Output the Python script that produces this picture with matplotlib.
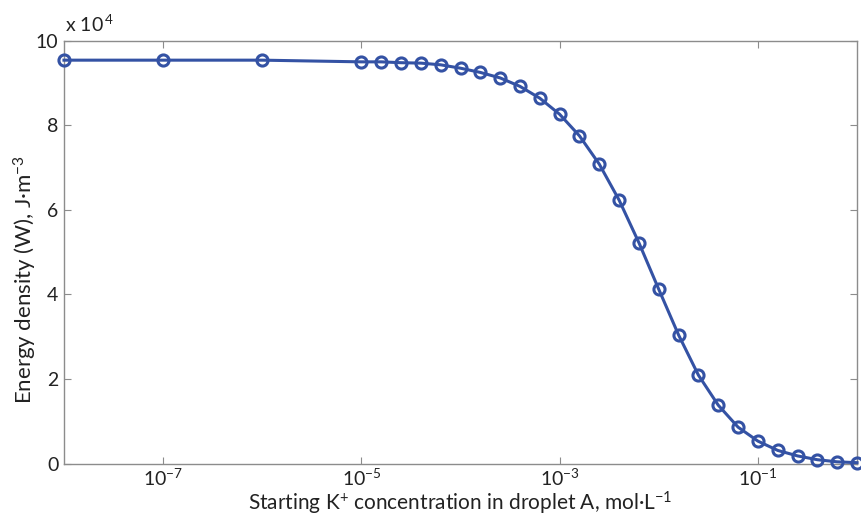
import matplotlib
matplotlib.use("Agg")
import matplotlib.pyplot as plt
from matplotlib.ticker import FixedLocator, FuncFormatter, NullLocator
import numpy as np

plt.rcParams['font.family'] = ['Lato', 'DejaVu Sans']
plt.rcParams['mathtext.fontset'] = 'custom'
plt.rcParams['mathtext.rm'] = 'Lato'
plt.rcParams['mathtext.it'] = 'Lato:italic'
plt.rcParams['mathtext.bf'] = 'Lato:bold'
plt.rcParams['axes.unicode_minus'] = True

# Data: log10 of starting K+ concentration (mol/L) and energy density (J/m^3)
log_conc = [-8, -7, -6, -5, -4.8, -4.6, -4.4, -4.2, -4.0, -3.8, -3.6, -3.4, -3.2,
            -3.0, -2.8, -2.6, -2.4, -2.2, -2.0, -1.8, -1.6, -1.4, -1.2, -1.0,
            -0.8, -0.6, -0.4, -0.2, 0.0]
energy = [95400, 95400, 95400, 95000, 95000, 94800, 94700, 94300, 93500, 92500,
          91200, 89200, 86400, 82600, 77500, 70800, 62300, 52200, 41200, 30400,
          20900, 13800, 8600, 5300, 3100, 1800, 900, 400, 200]
xtick_vals = [1e-7, 1e-5, 1e-3, 1e-1]
ytick_vals = [0, 20000, 40000, 60000, 80000, 100000]

conc = [10.0 ** v for v in log_conc]

fig = plt.figure(figsize=(8.61, 5.16), dpi=100)
ax = fig.add_axes([0.0743, 0.1017, 0.9211, 0.8194])

color = '#3452A4'
ax.plot(conc, energy, '-o', color=color, lw=2.2, ms=8, mfc='none', mec=color, mew=2.2,
        clip_on=False, zorder=3)

ax.set_xscale('log')
ax.set_xlim(1e-8, 1)
ax.set_ylim(0, 100000)
ax.xaxis.set_major_locator(FixedLocator(xtick_vals))
ax.xaxis.set_minor_locator(NullLocator())
ax.yaxis.set_major_locator(FixedLocator(ytick_vals))
ax.yaxis.set_major_formatter(FuncFormatter(lambda v, p: f"{v/1e4:g}"))

for s in ax.spines.values():
    s.set_color('#8c8c8c')
    s.set_linewidth(1.0)
ax.tick_params(which='both', direction='in', top=True, right=True, length=5,
               width=0.8, color='#8c8c8c', labelsize=14, labelcolor='#222222', pad=3)
ax.tick_params(axis='y', pad=4)

ax.text(0.001, 1.014, r"x 10$^{\,4}$", transform=ax.transAxes, fontsize=14,
        color='#222222', ha='left', va='bottom')

ax.set_xlabel(r"Starting K$^{+}$ concentration in droplet A, mol·L$^{-1}$",
              fontsize=15, color='#222222')
ax.xaxis.set_label_coords(0.5, -0.063)
ax.set_ylabel(r"Energy density (W), J·m$^{-3}$", fontsize=16, color='#222222')
ax.yaxis.set_label_coords(-0.031, 0.436)

fig.savefig('out.png', dpi=100)
